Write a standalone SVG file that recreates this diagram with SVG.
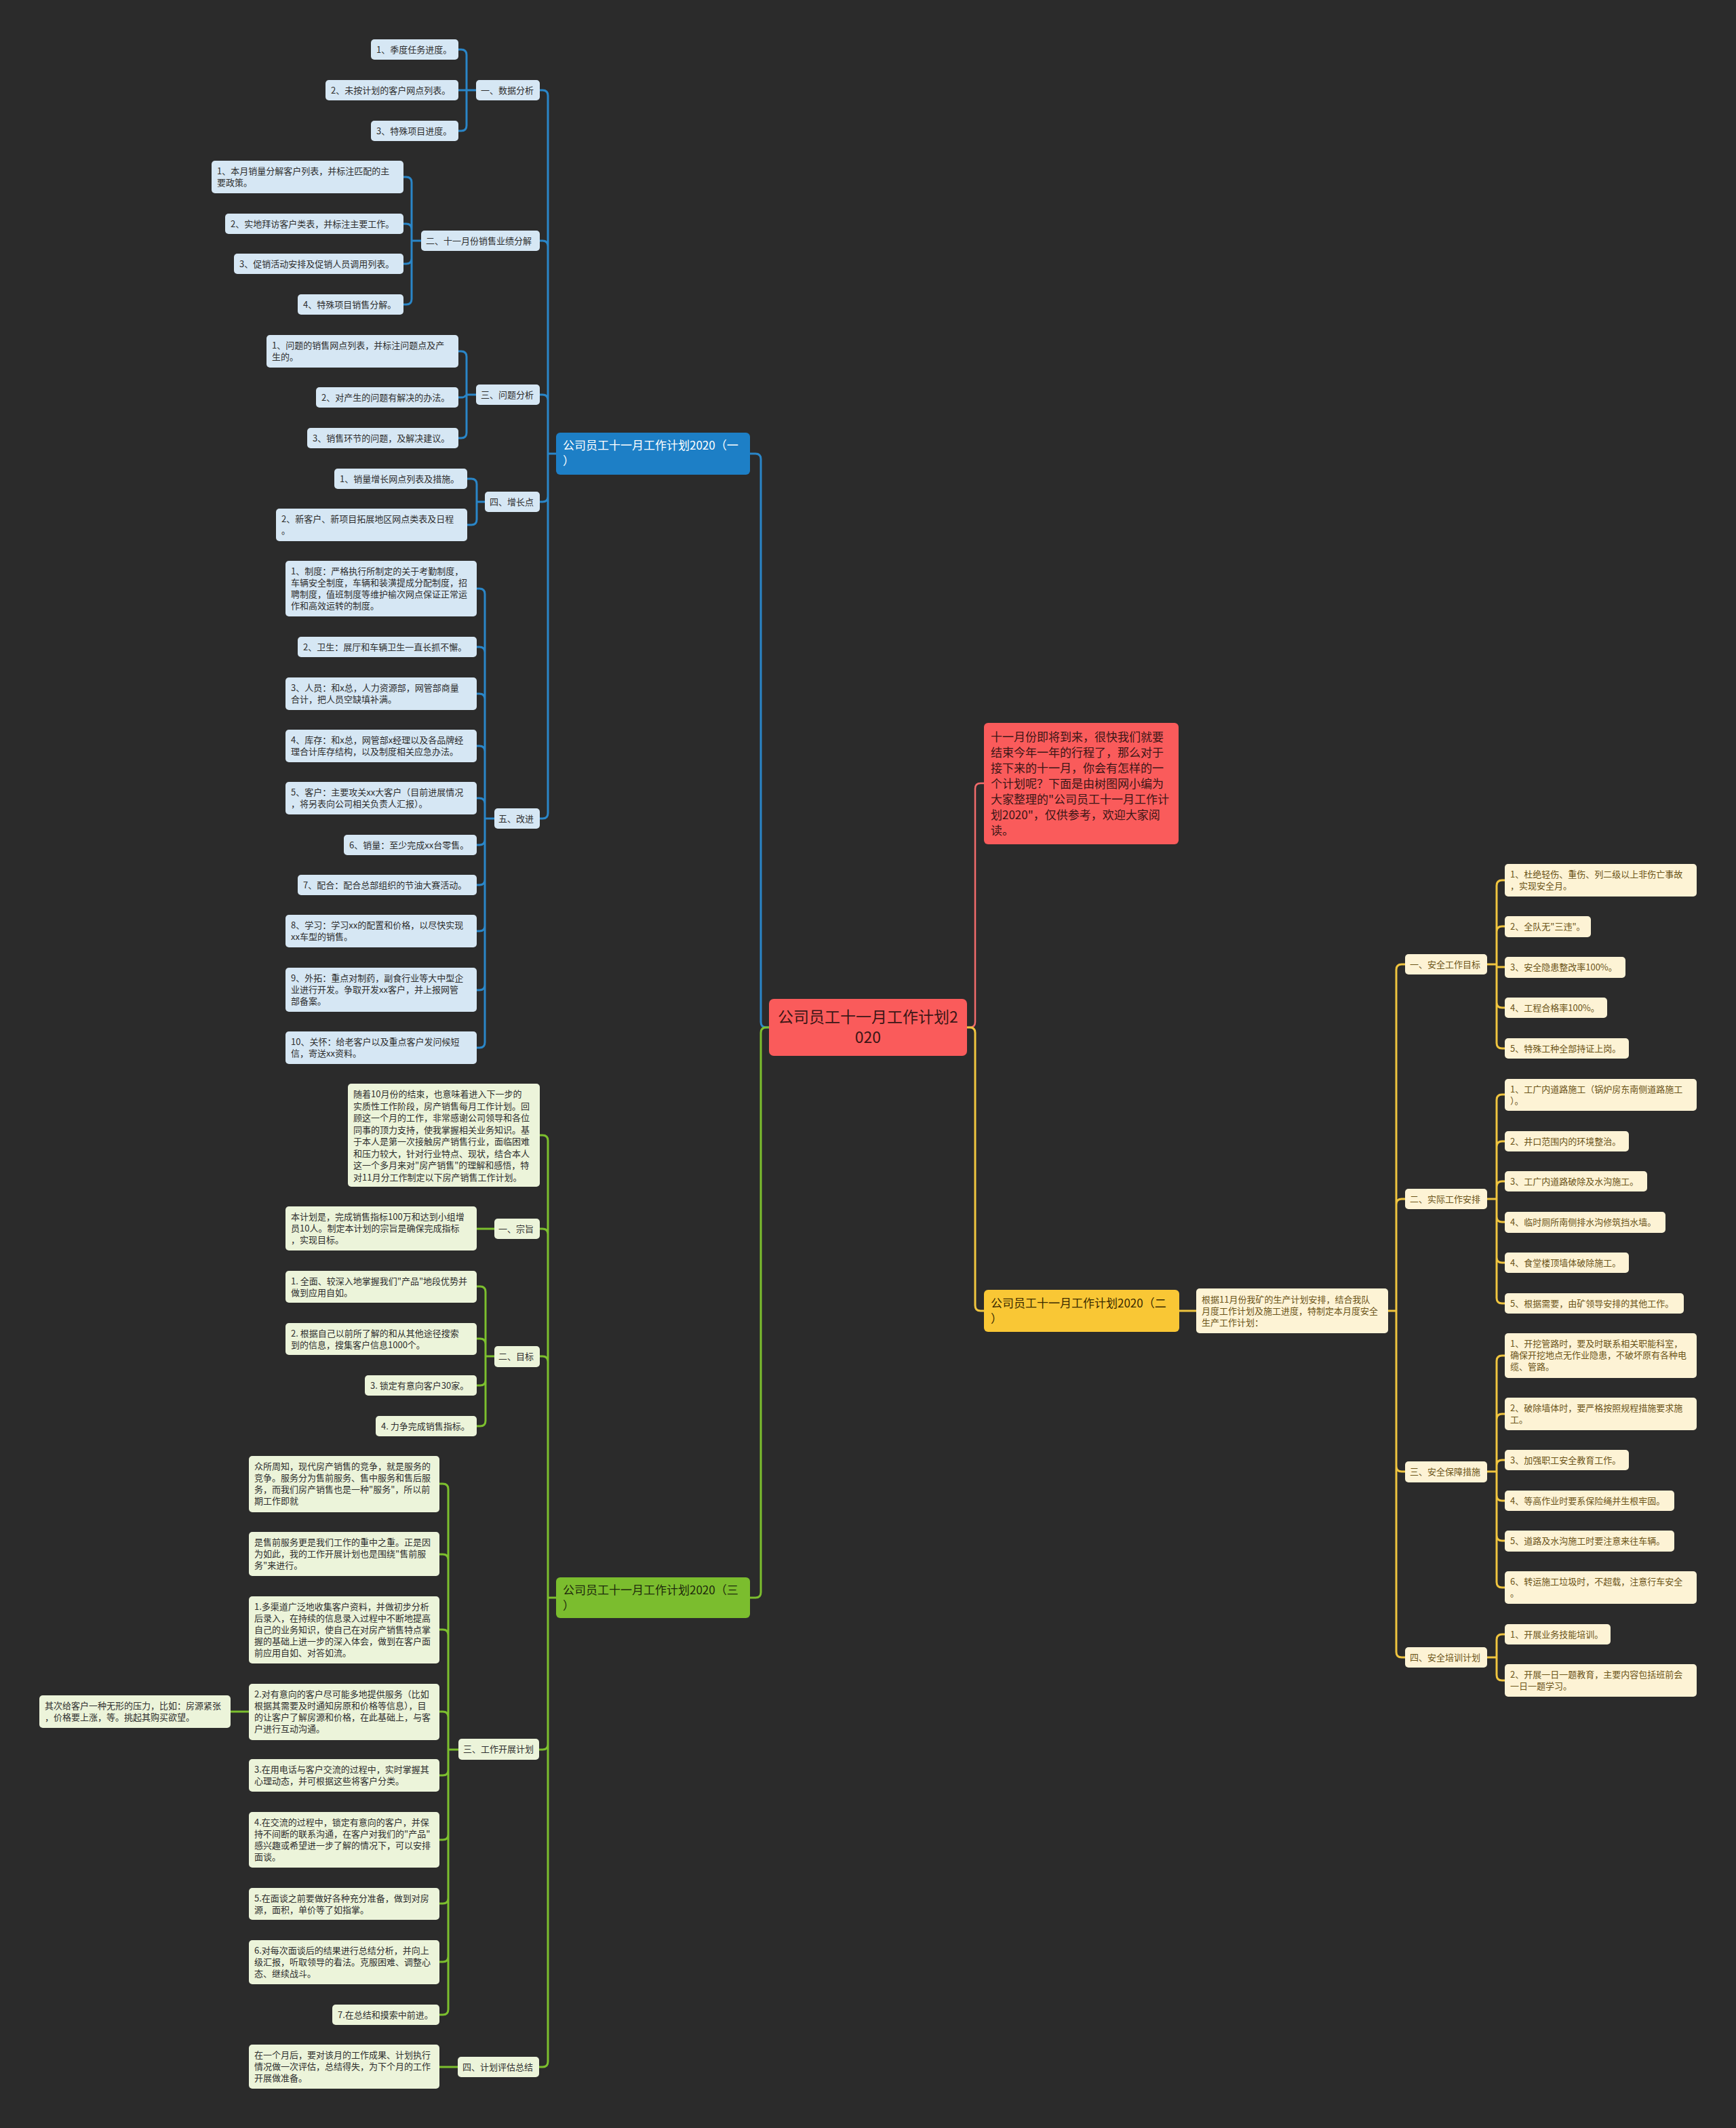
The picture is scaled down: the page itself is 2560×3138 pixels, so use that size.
<svg xmlns="http://www.w3.org/2000/svg" width="2560" height="3138" viewBox="0 0 2560 3138">
<style>
text{font-family:"Noto Sans CJK SC","Noto Sans",sans-serif;font-size:13px}
.bl{fill:#d6e7f4}
.gl{fill:#ecf4da}
.yl{fill:#fdf3d5}
.tb{fill:#2e2e2e}
.ty{fill:#6b5418}
.cb{fill:none;stroke:#2a86c8;stroke-width:3}
.cg{fill:none;stroke:#7cbf2e;stroke-width:3}
.cy{fill:none;stroke:#f0c53f;stroke-width:3}
.cr{fill:none;stroke:#f26b6b;stroke-width:2.5}
.big{font-size:17px}
.huge{font-size:23px}
</style>
<rect width="2560" height="3138" fill="#2b2b2b"/>
<g id="connectors">
<path class="cb" d="M1134,1515 H1130 Q1122,1515 1122,1507 V677 Q1122,669 1114,669 H1106"/>
<path class="cg" d="M1134,1515 H1130 Q1122,1515 1122,1523 V2348 Q1122,2356 1114,2356 H1106"/>
<path class="cr" d="M1426,1515 H1430 Q1438,1515 1438,1507 V1163 Q1438,1155 1446,1155 H1451"/>
<path class="cy" d="M1426,1515 H1430 Q1438,1515 1438,1523 V1925 Q1438,1933 1446,1933 H1451"/>
<path class="cb" d="M820,669 H808 V141 Q808,133 800,133 H796 M820,669 H808 V363 Q808,355 800,355 H796 M820,669 H808 V590 Q808,582 800,582 H796 M820,669 H808 V732 Q808,740 800,740 H796 M820,669 H808 V1199 Q808,1207 800,1207 H796"/>
<path class="cb" d="M702,133 H688 V81 Q688,73 680,73 H676 M702,133 H676 M702,133 H688 V185 Q688,193 680,193 H676"/>
<path class="cb" d="M621,355 H607 V269 Q607,261 599,261 H595 M621,355 H607 V338 Q607,330 599,330 H595 M621,355 H607 V381 Q607,389 599,389 H595 M621,355 H607 V441 Q607,449 599,449 H595"/>
<path class="cb" d="M702,582 H688 V526 Q688,518 680,518 H676 M702,582 H690 C686,582 686,586 682,586 H676 M702,582 H688 V638 Q688,646 680,646 H676"/>
<path class="cb" d="M715,740 H703 V714 Q703,706 695,706 H689 M715,740 H703 V766 Q703,774 695,774 H689"/>
<path class="cb" d="M729,1207 H715 V876 Q715,868 707,868 H703 M729,1207 H715 V962 Q715,954 707,954 H703 M729,1207 H715 V1031 Q715,1023 707,1023 H703 M729,1207 H715 V1108 Q715,1100 707,1100 H703 M729,1207 H715 V1185 Q715,1177 707,1177 H703 M729,1207 H715 V1238 Q715,1246 707,1246 H703 M729,1207 H715 V1297 Q715,1305 707,1305 H703 M729,1207 H715 V1365 Q715,1373 707,1373 H703 M729,1207 H715 V1452 Q715,1460 707,1460 H703 M729,1207 H715 V1537 Q715,1545 707,1545 H703"/>
<path class="cg" d="M820,2356 H808 V1682 Q808,1674 800,1674 H796 M820,2356 H808 V1820 Q808,1812 800,1812 H796 M820,2356 H808 V2008 Q808,2000 800,2000 H796 M820,2356 H808 V2572 Q808,2580 800,2580 H795 M820,2356 H808 V3040 Q808,3048 800,3048 H795"/>
<path class="cg" d="M729,1812 H703"/>
<path class="cg" d="M729,2000 H716 V1905 Q716,1897 708,1897 H703 M729,2000 H716 V1982 Q716,1974 708,1974 H703 M729,2000 H716 V2035 Q716,2043 708,2043 H703 M729,2000 H716 V2095 Q716,2103 708,2103 H703"/>
<path class="cg" d="M676,2580 H661 V2196 Q661,2188 653,2188 H648 M676,2580 H661 V2300 Q661,2292 653,2292 H648 M676,2580 H661 V2411 Q661,2403 653,2403 H648 M676,2580 H661 V2532 Q661,2524 653,2524 H648 M676,2580 H661 V2610 Q661,2618 653,2618 H648 M676,2580 H661 V2705 Q661,2713 653,2713 H648 M676,2580 H661 V2799 Q661,2807 653,2807 H648 M676,2580 H661 V2885 Q661,2893 653,2893 H648 M676,2580 H661 V2963 Q661,2971 653,2971 H648"/>
<path class="cg" d="M367,2524 H340 M675,3048 H648"/>
<path class="cy" d="M1739,1933 H1764"/>
<path class="cy" d="M2047,1933 H2059 V1430 Q2059,1422 2067,1422 H2072 M2047,1933 H2059 V1776 Q2059,1768 2067,1768 H2072 M2047,1933 H2059 V2162 Q2059,2170 2067,2170 H2072 M2047,1933 H2059 V2436 Q2059,2444 2067,2444 H2072"/>
<path class="cy" d="M2193,1422 H2207 V1306 Q2207,1298 2215,1298 H2219 M2193,1422 H2207 V1374 Q2207,1366 2215,1366 H2219 M2193,1422 H2207 V1426 H2219 M2193,1422 H2207 V1478 Q2207,1486 2215,1486 H2219 M2193,1422 H2207 V1538 Q2207,1546 2215,1546 H2219"/>
<path class="cy" d="M2193,1768 H2207 V1622 Q2207,1614 2215,1614 H2219 M2193,1768 H2207 V1691 Q2207,1683 2215,1683 H2219 M2193,1768 H2207 V1750 Q2207,1742 2215,1742 H2219 M2193,1768 H2207 V1794 Q2207,1802 2215,1802 H2219 M2193,1768 H2207 V1854 Q2207,1862 2215,1862 H2219 M2193,1768 H2207 V1914 Q2207,1922 2215,1922 H2219"/>
<path class="cy" d="M2193,2170 H2207 V2007 Q2207,1999 2215,1999 H2219 M2193,2170 H2207 V2093 Q2207,2085 2215,2085 H2219 M2193,2170 H2207 V2161 Q2207,2153 2215,2153 H2219 M2193,2170 H2207 V2205 Q2207,2213 2215,2213 H2219 M2193,2170 H2207 V2264 Q2207,2272 2215,2272 H2219 M2193,2170 H2207 V2333 Q2207,2341 2215,2341 H2219"/>
<path class="cy" d="M2193,2444 H2207 V2418 Q2207,2410 2215,2410 H2219 M2193,2444 H2207 V2470 Q2207,2478 2215,2478 H2219"/>
</g>

<g id="center-root"><rect x="1134" y="1473" width="292" height="84" rx="7" fill="#fa5b5b"/><text class="huge" x="1280" y="1508" text-anchor="middle" fill="#3b1616"><tspan x="1280">公司员工十一月工作计划2</tspan><tspan x="1280" dy="30">020</tspan></text></g>
<g id="intro"><rect x="1451" y="1066" width="287" height="179" rx="6" fill="#fa5b5b"/><text class="big" fill="#3b1616" x="1461" y="1093"><tspan x="1461">十一月份即将到来，很快我们就要</tspan><tspan x="1461" dy="23">结束今年一年的行程了，那么对于</tspan><tspan x="1461" dy="23">接下来的十一月，你会有怎样的一</tspan><tspan x="1461" dy="23">个计划呢？下面是由树图网小编为</tspan><tspan x="1461" dy="23">大家整理的"公司员工十一月工作计</tspan><tspan x="1461" dy="23">划2020"，仅供参考，欢迎大家阅</tspan><tspan x="1461" dy="23">读。</tspan></text></g>

<g id="root1"><rect x="820" y="638" width="286" height="62" rx="6" fill="#1d7fc6"/><text class="big" fill="#ffffff" x="830" y="663"><tspan x="830">公司员工十一月工作计划2020（一</tspan><tspan x="830" dy="23">）</tspan></text></g>
<g id="b1"><rect class="bl" x="702" y="118" width="94" height="30" rx="5"/><text class="tb" x="709" y="138">一、数据分析</text></g>
<g id="b1-1"><rect class="bl" x="547" y="58" width="129" height="30" rx="5"/><text class="tb" x="555" y="78">1、季度任务进度。</text></g>
<g id="b1-2"><rect class="bl" x="480" y="118" width="196" height="30" rx="5"/><text class="tb" x="488" y="138">2、未按计划的客户网点列表。</text></g>
<g id="b1-3"><rect class="bl" x="547" y="178" width="129" height="30" rx="5"/><text class="tb" x="555" y="198">3、特殊项目进度。</text></g>
<g id="b2"><rect class="bl" x="621" y="340" width="175" height="30" rx="5"/><text class="tb" x="628" y="360">二、十一月份销售业绩分解</text></g>
<g id="b2-1"><rect class="bl" x="312" y="237" width="283" height="48" rx="5"/><text class="tb" x="320" y="257"><tspan x="320">1、本月销量分解客户列表，并标注匹配的主</tspan><tspan x="320" dy="17">要政策。</tspan></text></g>
<g id="b2-2"><rect class="bl" x="332" y="315" width="263" height="30" rx="5"/><text class="tb" x="340" y="335">2、实地拜访客户类表，并标注主要工作。</text></g>
<g id="b2-3"><rect class="bl" x="345" y="374" width="250" height="30" rx="5"/><text class="tb" x="353" y="394">3、促销活动安排及促销人员调用列表。</text></g>
<g id="b2-4"><rect class="bl" x="439" y="434" width="156" height="30" rx="5"/><text class="tb" x="447" y="454">4、特殊项目销售分解。</text></g>
<g id="b3"><rect class="bl" x="702" y="567" width="94" height="30" rx="5"/><text class="tb" x="709" y="587">三、问题分析</text></g>
<g id="b3-1"><rect class="bl" x="393" y="494" width="283" height="48" rx="5"/><text class="tb" x="401" y="514"><tspan x="401">1、问题的销售网点列表，并标注问题点及产</tspan><tspan x="401" dy="17">生的。</tspan></text></g>
<g id="b3-2"><rect class="bl" x="466" y="571" width="210" height="30" rx="5"/><text class="tb" x="474" y="591">2、对产生的问题有解决的办法。</text></g>
<g id="b3-3"><rect class="bl" x="453" y="631" width="223" height="30" rx="5"/><text class="tb" x="461" y="651">3、销售环节的问题，及解决建议。</text></g>
<g id="b4"><rect class="bl" x="715" y="725" width="81" height="30" rx="5"/><text class="tb" x="722" y="745">四、增长点</text></g>
<g id="b4-1"><rect class="bl" x="493" y="691" width="196" height="30" rx="5"/><text class="tb" x="501" y="711">1、销量增长网点列表及措施。</text></g>
<g id="b4-2"><rect class="bl" x="407" y="750" width="282" height="48" rx="5"/><text class="tb" x="415" y="770"><tspan x="415">2、新客户、新项目拓展地区网点类表及日程</tspan><tspan x="415" dy="17">。</tspan></text></g>
<g id="b5"><rect class="bl" x="729" y="1192" width="67" height="30" rx="5"/><text class="tb" x="735" y="1212">五、改进</text></g>
<g id="b5-1"><rect class="bl" x="421" y="827" width="282" height="82" rx="5"/><text class="tb" x="429" y="847"><tspan x="429">1、制度：严格执行所制定的关于考勤制度，</tspan><tspan x="429" dy="17">车辆安全制度，车辆和装潢提成分配制度，招</tspan><tspan x="429" dy="17">聘制度，值班制度等维护榆次网点保证正常运</tspan><tspan x="429" dy="17">作和高效运转的制度。</tspan></text></g>
<g id="b5-2"><rect class="bl" x="439" y="939" width="264" height="30" rx="5"/><text class="tb" x="447" y="959">2、卫生：展厅和车辆卫生一直长抓不懈。</text></g>
<g id="b5-3"><rect class="bl" x="421" y="999" width="282" height="48" rx="5"/><text class="tb" x="429" y="1019"><tspan x="429">3、人员：和x总，人力资源部，网管部商量</tspan><tspan x="429" dy="17">合计，把人员空缺填补满。</tspan></text></g>
<g id="b5-4"><rect class="bl" x="421" y="1076" width="282" height="48" rx="5"/><text class="tb" x="429" y="1096"><tspan x="429">4、库存：和x总，网管部x经理以及各品牌经</tspan><tspan x="429" dy="17">理合计库存结构，以及制度相关应急办法。</tspan></text></g>
<g id="b5-5"><rect class="bl" x="421" y="1153" width="282" height="48" rx="5"/><text class="tb" x="429" y="1173"><tspan x="429">5、客户：主要攻关xx大客户（目前进展情况</tspan><tspan x="429" dy="17">，将另表向公司相关负责人汇报）。</tspan></text></g>
<g id="b5-6"><rect class="bl" x="507" y="1231" width="196" height="30" rx="5"/><text class="tb" x="515" y="1251">6、销量：至少完成xx台零售。</text></g>
<g id="b5-7"><rect class="bl" x="439" y="1290" width="264" height="30" rx="5"/><text class="tb" x="447" y="1310">7、配合：配合总部组织的节油大赛活动。</text></g>
<g id="b5-8"><rect class="bl" x="421" y="1349" width="282" height="48" rx="5"/><text class="tb" x="429" y="1369"><tspan x="429">8、学习：学习xx的配置和价格，以尽快实现</tspan><tspan x="429" dy="17">xx车型的销售。</tspan></text></g>
<g id="b5-9"><rect class="bl" x="421" y="1427" width="282" height="65" rx="5"/><text class="tb" x="429" y="1447"><tspan x="429">9、外拓：重点对制药，副食行业等大中型企</tspan><tspan x="429" dy="17">业进行开发。争取开发xx客户，并上报网管</tspan><tspan x="429" dy="17">部备案。</tspan></text></g>
<g id="b5-10"><rect class="bl" x="421" y="1521" width="282" height="48" rx="5"/><text class="tb" x="429" y="1541"><tspan x="429">10、关怀：给老客户以及重点客户发问候短</tspan><tspan x="429" dy="17">信，寄送xx资料。</tspan></text></g>

<g id="root3"><rect x="820" y="2326" width="286" height="60" rx="6" fill="#7bbd2e"/><text class="big" fill="#1e2a0c" x="830" y="2351"><tspan x="830">公司员工十一月工作计划2020（三</tspan><tspan x="830" dy="23">）</tspan></text></g>
<g id="g0"><rect class="gl" x="513" y="1598" width="283" height="152" rx="5"/><text class="tb" x="521" y="1618"><tspan x="521">随着10月份的结束，也意味着进入下一步的</tspan><tspan x="521" dy="17.5">实质性工作阶段，房产销售每月工作计划。回</tspan><tspan x="521" dy="17.5">顾这一个月的工作，非常感谢公司领导和各位</tspan><tspan x="521" dy="17.5">同事的顶力支持，使我掌握相关业务知识。基</tspan><tspan x="521" dy="17.5">于本人是第一次接触房产销售行业，面临困难</tspan><tspan x="521" dy="17.5">和压力较大，针对行业特点、现状，结合本人</tspan><tspan x="521" dy="17.5">这一个多月来对"房产销售"的理解和感悟，特</tspan><tspan x="521" dy="17.5">对11月分工作制定以下房产销售工作计划。</tspan></text></g>
<g id="g1"><rect class="gl" x="729" y="1797" width="67" height="30" rx="5"/><text class="tb" x="735" y="1817">一、宗旨</text></g>
<g id="g1-1"><rect class="gl" x="421" y="1779" width="282" height="65" rx="5"/><text class="tb" x="429" y="1799"><tspan x="429">本计划是，完成销售指标100万和达到小组增</tspan><tspan x="429" dy="17">员10人。制定本计划的宗旨是确保完成指标</tspan><tspan x="429" dy="17">，实现目标。</tspan></text></g>
<g id="g2"><rect class="gl" x="729" y="1985" width="67" height="31" rx="5"/><text class="tb" x="735" y="2005">二、目标</text></g>
<g id="g2-1"><rect class="gl" x="421" y="1874" width="282" height="47" rx="5"/><text class="tb" x="429" y="1894"><tspan x="429">1. 全面、较深入地掌握我们"产品"地段优势并</tspan><tspan x="429" dy="17">做到应用自如。</tspan></text></g>
<g id="g2-2"><rect class="gl" x="421" y="1951" width="282" height="47" rx="5"/><text class="tb" x="429" y="1971"><tspan x="429">2. 根据自己以前所了解的和从其他途径搜索</tspan><tspan x="429" dy="17">到的信息，搜集客户信息1000个。</tspan></text></g>
<g id="g2-3"><rect class="gl" x="538" y="2028" width="165" height="30" rx="5"/><text class="tb" x="546" y="2048">3. 锁定有意向客户30家。</text></g>
<g id="g2-4"><rect class="gl" x="554" y="2088" width="149" height="30" rx="5"/><text class="tb" x="562" y="2108">4. 力争完成销售指标。</text></g>
<g id="g3"><rect class="gl" x="676" y="2564" width="119" height="31" rx="5"/><text class="tb" x="683" y="2584">三、工作开展计划</text></g>
<g id="g3-1"><rect class="gl" x="367" y="2147" width="281" height="83" rx="5"/><text class="tb" x="375" y="2167"><tspan x="375">众所周知，现代房产销售的竞争，就是服务的</tspan><tspan x="375" dy="17">竞争。服务分为售前服务、售中服务和售后服</tspan><tspan x="375" dy="17">务，而我们房产销售也是一种"服务"，所以前</tspan><tspan x="375" dy="17">期工作即就</tspan></text></g>
<g id="g3-2"><rect class="gl" x="367" y="2259" width="281" height="65" rx="5"/><text class="tb" x="375" y="2279"><tspan x="375">是售前服务更是我们工作的重中之重。正是因</tspan><tspan x="375" dy="17">为如此，我的工作开展计划也是围绕"售前服</tspan><tspan x="375" dy="17">务"来进行。</tspan></text></g>
<g id="g3-3"><rect class="gl" x="367" y="2354" width="281" height="99" rx="5"/><text class="tb" x="375" y="2374"><tspan x="375">1.多渠道广泛地收集客户资料，并做初步分析</tspan><tspan x="375" dy="17">后录入，在持续的信息录入过程中不断地提高</tspan><tspan x="375" dy="17">自己的业务知识，使自己在对房产销售特点掌</tspan><tspan x="375" dy="17">握的基础上进一步的深入体会，做到在客户面</tspan><tspan x="375" dy="17">前应用自如、对答如流。</tspan></text></g>
<g id="g3-4"><rect class="gl" x="367" y="2483" width="281" height="83" rx="5"/><text class="tb" x="375" y="2503"><tspan x="375">2.对有意向的客户尽可能多地提供服务（比如</tspan><tspan x="375" dy="17">根据其需要及时通知房原和价格等信息），目</tspan><tspan x="375" dy="17">的让客户了解房源和价格，在此基础上，与客</tspan><tspan x="375" dy="17">户进行互动沟通。</tspan></text></g>
<g id="g3-4-1"><rect class="gl" x="58" y="2500" width="282" height="48" rx="5"/><text class="tb" x="66" y="2520"><tspan x="66">其次给客户一种无形的压力，比如：房源紧张</tspan><tspan x="66" dy="17">，价格要上涨，等。挑起其购买欲望。</tspan></text></g>
<g id="g3-5"><rect class="gl" x="367" y="2594" width="281" height="48" rx="5"/><text class="tb" x="375" y="2614"><tspan x="375">3.在用电话与客户交流的过程中，实时掌握其</tspan><tspan x="375" dy="17">心理动态，并可根据这些将客户分类。</tspan></text></g>
<g id="g3-6"><rect class="gl" x="367" y="2672" width="281" height="82" rx="5"/><text class="tb" x="375" y="2692"><tspan x="375">4.在交流的过程中，锁定有意向的客户，并保</tspan><tspan x="375" dy="17">持不间断的联系沟通，在客户对我们的"产品"</tspan><tspan x="375" dy="17">感兴趣或希望进一步了解的情况下，可以安排</tspan><tspan x="375" dy="17">面谈。</tspan></text></g>
<g id="g3-7"><rect class="gl" x="367" y="2784" width="281" height="47" rx="5"/><text class="tb" x="375" y="2804"><tspan x="375">5.在面谈之前要做好各种充分准备，做到对房</tspan><tspan x="375" dy="17">源，面积，单价等了如指掌。</tspan></text></g>
<g id="g3-8"><rect class="gl" x="367" y="2861" width="281" height="65" rx="5"/><text class="tb" x="375" y="2881"><tspan x="375">6.对每次面谈后的结果进行总结分析，并向上</tspan><tspan x="375" dy="17">级汇报，听取领导的看法。克服困难、调整心</tspan><tspan x="375" dy="17">态、继续战斗。</tspan></text></g>
<g id="g3-9"><rect class="gl" x="490" y="2956" width="158" height="30" rx="5"/><text class="tb" x="498" y="2976">7.在总结和摸索中前进。</text></g>
<g id="g4"><rect class="gl" x="675" y="3033" width="120" height="30" rx="5"/><text class="tb" x="682" y="3053">四、计划评估总结</text></g>
<g id="g4-1"><rect class="gl" x="367" y="3015" width="281" height="65" rx="5"/><text class="tb" x="375" y="3035"><tspan x="375">在一个月后，要对该月的工作成果、计划执行</tspan><tspan x="375" dy="17">情况做一次评估，总结得失，为下个月的工作</tspan><tspan x="375" dy="17">开展做准备。</tspan></text></g>

<g id="root2"><rect x="1451" y="1902" width="288" height="62" rx="6" fill="#f9c735"/><text class="big" fill="#3a2a00" x="1461" y="1928"><tspan x="1461">公司员工十一月工作计划2020（二</tspan><tspan x="1461" dy="23">）</tspan></text></g>
<g id="y0"><rect class="yl" x="1764" y="1900" width="283" height="66" rx="5"/><text class="ty" x="1772" y="1921"><tspan x="1772">根据11月份我矿的生产计划安排，结合我队</tspan><tspan x="1772" dy="17">月度工作计划及施工进度，特制定本月度安全</tspan><tspan x="1772" dy="17">生产工作计划：</tspan></text></g>
<g id="y1"><rect class="yl" x="2072" y="1407" width="121" height="30" rx="5"/><text class="ty" x="2079" y="1427">一、安全工作目标</text></g>
<g id="y1-1"><rect class="yl" x="2219" y="1274" width="283" height="48" rx="5"/><text class="ty" x="2227" y="1294"><tspan x="2227">1、杜绝轻伤、重伤、列二级以上非伤亡事故</tspan><tspan x="2227" dy="17">，实现安全月。</tspan></text></g>
<g id="y1-2"><rect class="yl" x="2219" y="1351" width="127" height="31" rx="5"/><text class="ty" x="2227" y="1371">2、全队无"三违"。</text></g>
<g id="y1-3"><rect class="yl" x="2219" y="1411" width="178" height="31" rx="5"/><text class="ty" x="2227" y="1431">3、安全隐患整改率100%。</text></g>
<g id="y1-4"><rect class="yl" x="2219" y="1471" width="151" height="30" rx="5"/><text class="ty" x="2227" y="1491">4、工程合格率100%。</text></g>
<g id="y1-5"><rect class="yl" x="2219" y="1531" width="183" height="30" rx="5"/><text class="ty" x="2227" y="1551">5、特殊工种全部持证上岗。</text></g>
<g id="y2"><rect class="yl" x="2072" y="1753" width="121" height="30" rx="5"/><text class="ty" x="2079" y="1773">二、实际工作安排</text></g>
<g id="y2-1"><rect class="yl" x="2219" y="1591" width="283" height="47" rx="5"/><text class="ty" x="2227" y="1611"><tspan x="2227">1、工广内道路施工（锅炉房东南侧道路施工</tspan><tspan x="2227" dy="17">）。</tspan></text></g>
<g id="y2-2"><rect class="yl" x="2219" y="1668" width="183" height="30" rx="5"/><text class="ty" x="2227" y="1688">2、井口范围内的环境整治。</text></g>
<g id="y2-3"><rect class="yl" x="2219" y="1727" width="210" height="30" rx="5"/><text class="ty" x="2227" y="1747">3、工广内道路破除及水沟施工。</text></g>
<g id="y2-4"><rect class="yl" x="2219" y="1787" width="237" height="31" rx="5"/><text class="ty" x="2227" y="1807">4、临时厕所南侧排水沟修筑挡水墙。</text></g>
<g id="y2-5"><rect class="yl" x="2219" y="1847" width="183" height="30" rx="5"/><text class="ty" x="2227" y="1867">4、食堂楼顶墙体破除施工。</text></g>
<g id="y2-6"><rect class="yl" x="2219" y="1907" width="264" height="30" rx="5"/><text class="ty" x="2227" y="1927">5、根据需要，由矿领导安排的其他工作。</text></g>
<g id="y3"><rect class="yl" x="2072" y="2155" width="121" height="31" rx="5"/><text class="ty" x="2079" y="2175">三、安全保障措施</text></g>
<g id="y3-1"><rect class="yl" x="2219" y="1966" width="283" height="66" rx="5"/><text class="ty" x="2227" y="1986"><tspan x="2227">1、开挖管路时，要及时联系相关职能科室，</tspan><tspan x="2227" dy="17">确保开挖地点无作业隐患，不破坏原有各种电</tspan><tspan x="2227" dy="17">缆、管路。</tspan></text></g>
<g id="y3-2"><rect class="yl" x="2219" y="2061" width="283" height="48" rx="5"/><text class="ty" x="2227" y="2081"><tspan x="2227">2、破除墙体时，要严格按照规程措施要求施</tspan><tspan x="2227" dy="17">工。</tspan></text></g>
<g id="y3-3"><rect class="yl" x="2219" y="2138" width="183" height="30" rx="5"/><text class="ty" x="2227" y="2158">3、加强职工安全教育工作。</text></g>
<g id="y3-4"><rect class="yl" x="2219" y="2198" width="250" height="30" rx="5"/><text class="ty" x="2227" y="2218">4、等高作业时要系保险绳并生根牢固。</text></g>
<g id="y3-5"><rect class="yl" x="2219" y="2257" width="250" height="31" rx="5"/><text class="ty" x="2227" y="2277">5、道路及水沟施工时要注意来往车辆。</text></g>
<g id="y3-6"><rect class="yl" x="2219" y="2317" width="283" height="48" rx="5"/><text class="ty" x="2227" y="2337"><tspan x="2227">6、转运施工垃圾时，不超载，注意行车安全</tspan><tspan x="2227" dy="17">。</tspan></text></g>
<g id="y4"><rect class="yl" x="2072" y="2429" width="121" height="30" rx="5"/><text class="ty" x="2079" y="2449">四、安全培训计划</text></g>
<g id="y4-1"><rect class="yl" x="2219" y="2395" width="156" height="30" rx="5"/><text class="ty" x="2227" y="2415">1、开展业务技能培训。</text></g>
<g id="y4-2"><rect class="yl" x="2219" y="2454" width="283" height="48" rx="5"/><text class="ty" x="2227" y="2474"><tspan x="2227">2、开展一日一题教育，主要内容包括班前会</tspan><tspan x="2227" dy="17">一日一题学习。</tspan></text></g>
</svg>
